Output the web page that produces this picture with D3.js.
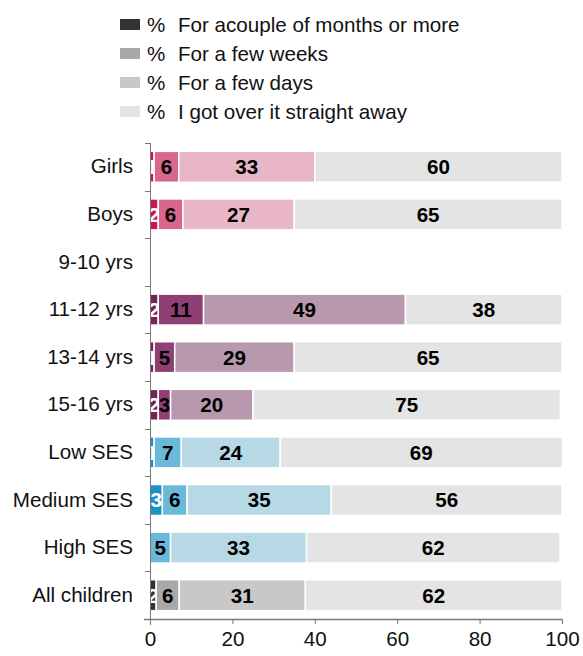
<!DOCTYPE html>
<html>
<head>
<meta charset="utf-8">
<script src="https://cdn.jsdelivr.net/npm/d3@7"></script>
<style>
  body { margin: 0; background: #fff; }
  svg { font-family: "Liberation Sans", Arial, sans-serif; }
</style>
</head>
<body>
<div id="chart"></div>
<script>
const width = 583;
const height = 656;
const margin = { top: 143, right: 21, bottom: 36, left: 150 };
const fontSize = 20.6;

const categories = ["Girls", "Boys", "9-10 yrs", "11-12 yrs", "13-14 yrs", "15-16 yrs",
  "Low SES", "Medium SES", "High SES", "All children"];
const seriesNames = ["For acouple of months or more", "For a few weeks", "For a few days", "I got over it straight away"];

// values per category, in series order
const monthsOrMore = [1, 2, null, 2, 1, 2, 1, 3, 0, 1.5];
const fewWeeks     = [6, 6, null, 11, 5, 3, 6.6, 6, 5, 5.6];
const fewDays      = [33, 27, null, 49, 29, 20, 24, 35, 33, 30.6];
const straightAway = [60, 65, null, 38, 65, 74.6, 68.5, 56, 61.5, 62.3];

const xTicks = [0, 20, 40, 60, 80, 100];

// colour sets per group of rows
const palettes = {
  gender: ["#c8194c", "#d9668f", "#e8b6c6", "#e4e4e4"],
  age:    ["#752555", "#8e3f74", "#b898ad", "#e4e4e4"],
  ses:    ["#1a92c5", "#6bb9d9", "#b6d9e5", "#e4e4e4"],
  all:    ["#333333", "#a8a8a8", "#c8c8c8", "#e4e4e4"]
};
const legendColors = ["#333333", "#a8a8a8", "#c8c8c8", "#e4e4e4"];
const groupOf = ["gender", "gender", "age", "age", "age", "age", "ses", "ses", "ses", "all"];

const rows = categories.map((c, i) => ({
  name: c,
  group: groupOf[i],
  vals: [monthsOrMore[i], fewWeeks[i], fewDays[i], straightAway[i]]
}));

const svg = d3.select("#chart")
  .append("svg")
  .attr("width", width)
  .attr("height", height);

const x = d3.scaleLinear()
  .domain([0, 100])
  .range([margin.left, width - margin.right]);

const y = d3.scaleBand()
  .domain(categories)
  .range([margin.top, height - margin.bottom - 1])
  .paddingInner(0.35)
  .paddingOuter(0.175);

// Legend
const legend = svg.append("g");
seriesNames.forEach((s, i) => {
  const cy = 24.5 + i * 29;
  legend.append("rect")
    .attr("x", 120).attr("y", cy - 5.5)
    .attr("width", 20).attr("height", 11)
    .attr("fill", legendColors[i]);
  legend.append("text")
    .attr("x", 147).attr("y", cy)
    .attr("dy", "0.35em")
    .attr("font-size", fontSize)
    .attr("fill", "#111")
    .text("%");
  legend.append("text")
    .attr("x", 178).attr("y", cy)
    .attr("dy", "0.35em")
    .attr("font-size", fontSize)
    .attr("fill", "#111")
    .text(s);
});

// Bars
rows.forEach(r => {
  if (r.vals[0] === null) return;
  const g = svg.append("g");
  let acc = 0;
  r.vals.forEach((v, j) => {
    const x0 = acc;
    acc += v;
    if (v <= 0) return;
    g.append("rect")
      .attr("x", x(x0))
      .attr("y", y(r.name))
      .attr("width", x(acc) - x(x0))
      .attr("height", y.bandwidth())
      .attr("fill", palettes[r.group][j])
      .attr("stroke", "#fff")
      .attr("stroke-width", 1.5);
    g.append("text")
      .attr("x", (x(x0) + x(acc)) / 2)
      .attr("y", y(r.name) + y.bandwidth() / 2)
      .attr("dy", "0.36em")
      .attr("text-anchor", "middle")
      .attr("font-size", fontSize)
      .attr("font-weight", "bold")
      .attr("fill", j === 0 ? "#fff" : "#000")
      .text(Math.round(v));
  });
});

// X axis
const xAxis = svg.append("g")
  .attr("transform", `translate(0, ${height - margin.bottom - 1})`)
  .call(d3.axisBottom(x).tickValues(xTicks).tickSize(5).tickSizeOuter(0).tickPadding(7));
xAxis.select(".domain").attr("stroke", "#777").attr("stroke-width", 1.5)
  .attr("d", `M${margin.left - 6},0.5H${width - margin.right}`);
xAxis.selectAll(".tick line").attr("stroke", "#777");
xAxis.selectAll(".tick text")
  .attr("font-size", fontSize)
  .attr("font-family", "Liberation Sans, Arial, sans-serif")
  .attr("fill", "#111");

// Y axis
const yAxis = svg.append("g")
  .attr("transform", `translate(${margin.left},0)`)
  .call(d3.axisLeft(y).tickSize(0).tickPadding(17));
yAxis.select(".domain").attr("stroke", "#777")
  .attr("d", `M0.5,${margin.top}V${height - margin.bottom + 5}`);
yAxis.selectAll(".tick text")
  .attr("font-size", fontSize)
  .attr("font-family", "Liberation Sans, Arial, sans-serif")
  .attr("fill", "#111");

// boundary ticks between categories
const bounds = d3.range(categories.length + 1).map(i => margin.top + i * y.step());
svg.append("g").selectAll("line")
  .data(bounds)
  .join("line")
  .attr("x1", margin.left - 5)
  .attr("x2", margin.left)
  .attr("y1", d => Math.round(d) + 0.5)
  .attr("y2", d => Math.round(d) + 0.5)
  .attr("stroke", "#777");
</script>
</body>
</html>
